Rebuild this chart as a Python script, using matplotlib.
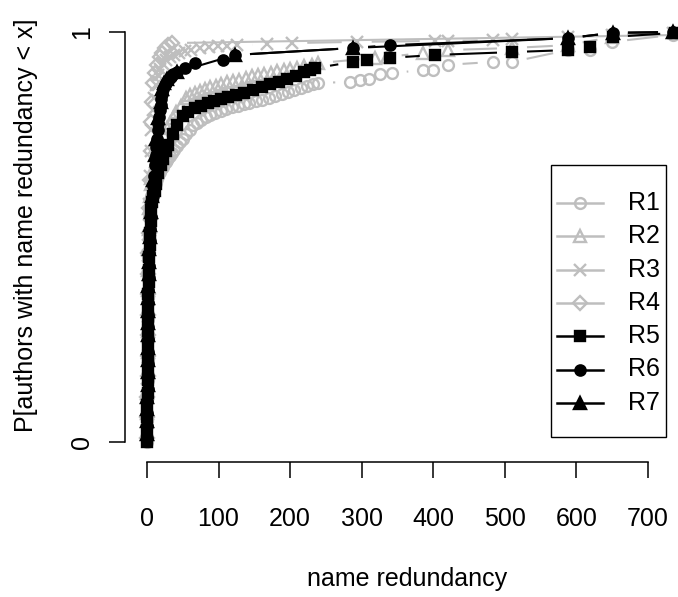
import matplotlib
matplotlib.use('Agg')
import matplotlib.pyplot as plt
from matplotlib.lines import Line2D
from matplotlib.patches import Rectangle
from matplotlib.collections import LineCollection
import numpy as np

plt.rcParams['font.family'] = ['Liberation Sans', 'DejaVu Sans']

W, H = 678, 597
GREY = '#bebebe'
FS = 18

# series (x = name redundancy, y = cumulative share)
names = ['R1', 'R2', 'R3', 'R4', 'R5', 'R6', 'R7']

r1_x = ([0, 0, 0, 1, 1, 1, 1, 2, 2, 2, 3, 3, 4]
        + [6, 8, 10, 12, 14, 16, 18, 20, 22, 24,
           26, 28, 30, 32, 35, 38, 42, 46, 50, 55,
           60, 65, 70, 76, 82, 88, 95, 103, 111, 119,
           127, 135, 143, 152, 161, 170, 179, 188, 197, 206,
           215, 224, 232, 239, 284, 297, 310, 326, 342, 386,
           400, 420, 483, 510, 588, 619, 650, 735])
r1_y = ([0.00, 0.05, 0.10, 0.15, 0.20, 0.25, 0.30, 0.35, 0.40, 0.45, 0.50, 0.55, 0.59]
        + [0.60, 0.612, 0.622, 0.632, 0.641, 0.65, 0.658, 0.665, 0.671, 0.677,
           0.682, 0.687, 0.692, 0.697, 0.704, 0.712, 0.722, 0.731, 0.74, 0.751,
           0.762, 0.772, 0.779, 0.786, 0.792, 0.797, 0.802, 0.807, 0.812, 0.816,
           0.82, 0.824, 0.827, 0.831, 0.834, 0.839, 0.844, 0.849, 0.854, 0.859,
           0.864, 0.869, 0.873, 0.876, 0.878, 0.883, 0.885, 0.898, 0.90, 0.907,
           0.907, 0.92, 0.927, 0.927, 0.956, 0.956, 0.976, 0.993])

r2_x = ([0, 0, 0, 1, 1, 1, 1, 2, 2, 2, 3, 3, 4, 5, 6]
        + [8, 10, 12, 14, 17, 20, 24, 28, 32, 36,
           41, 47, 54, 60, 67, 74, 81, 88, 96, 104,
           112, 120, 129, 138, 147, 155, 164, 173, 182, 191,
           200, 210, 220, 230, 239, 318, 335, 386, 421, 510,
           588, 650, 735])
r2_y = ([0.02, 0.07, 0.12, 0.17, 0.22, 0.27, 0.32, 0.37, 0.42, 0.47, 0.52, 0.57, 0.60, 0.63, 0.645]
        + [0.655, 0.67, 0.685, 0.70, 0.72, 0.735, 0.75, 0.765, 0.778, 0.79,
           0.805, 0.82, 0.838, 0.846, 0.852, 0.857, 0.861, 0.865, 0.869, 0.873,
           0.877, 0.88, 0.884, 0.888, 0.892, 0.895, 0.898, 0.901, 0.904, 0.907,
           0.91, 0.913, 0.917, 0.92, 0.924, 0.937, 0.939, 0.949, 0.956, 0.961,
           0.968, 0.988, 1.0])

r3_x = ([0, 0, 0, 1, 1, 1, 1, 2, 2, 2, 3, 3, 4, 5]
        + [6, 8, 10, 12, 15, 18, 22, 26, 32, 38,
           45, 53, 62, 74, 86, 99, 112, 126, 168, 203,
           293, 402, 420, 483, 510, 588, 650, 735])
r3_y = ([0.03, 0.08, 0.13, 0.18, 0.23, 0.28, 0.33, 0.38, 0.43, 0.48, 0.53, 0.58, 0.65, 0.71]
        + [0.76, 0.81, 0.84, 0.87, 0.895, 0.91, 0.922, 0.932, 0.94, 0.945,
           0.95, 0.954, 0.957, 0.96, 0.963, 0.965, 0.967, 0.968, 0.97, 0.973,
           0.976, 0.978, 0.978, 0.98, 0.983, 0.988, 0.993, 0.998])

r4_x = ([0, 0, 0, 1, 1, 1, 1, 2, 2, 2, 3, 3, 4, 5, 6, 7]
        + [9, 11, 14, 18, 21, 25, 30, 35, 1000])
r4_y = ([0.01, 0.06, 0.11, 0.16, 0.21, 0.26, 0.31, 0.36, 0.41, 0.46, 0.51, 0.57, 0.64, 0.71, 0.78, 0.83]
        + [0.875, 0.90, 0.92, 0.94, 0.95, 0.962, 0.968, 0.973, 1.0])

r5_x = ([0, 0, 0, 0, 1, 1, 1, 1, 1, 2, 2, 2, 2, 3, 3, 3, 4, 4, 5]
        + [6, 7, 9, 11, 13, 16, 19, 22, 26, 30,
           36, 42, 50, 58, 67, 76, 85, 94, 104, 113,
           124, 135, 148, 161, 172, 184, 196, 208, 220, 228,
           235, 288, 307, 340, 402, 510, 588, 619, 651, 738])
r5_y = ([0.00, 0.03, 0.06, 0.09, 0.12, 0.15, 0.18, 0.21, 0.24, 0.27,
         0.30, 0.33, 0.36, 0.39, 0.42, 0.45, 0.48, 0.51, 0.54]
        + [0.565, 0.585, 0.60, 0.612, 0.63, 0.655, 0.675, 0.69, 0.71, 0.725,
           0.752, 0.772, 0.795, 0.806, 0.815, 0.82, 0.826, 0.831, 0.836, 0.841,
           0.846, 0.851, 0.858, 0.866, 0.872, 0.878, 0.885, 0.893, 0.902, 0.907,
           0.912, 0.927, 0.932, 0.937, 0.944, 0.951, 0.956, 0.963, 0.988, 0.998])

r6_x = ([0, 0, 0, 0, 1, 1, 1, 1, 1, 2, 2, 2, 2, 3, 3, 3, 4, 4, 5, 6]
        + [8, 9, 10, 11, 12, 13, 14, 15, 16, 17,
           18, 19, 20, 21, 23, 25, 27, 29, 31, 33,
           35, 37, 42, 53, 67, 106, 123, 288, 340, 588,
           651, 735])
r6_y = ([0.01, 0.04, 0.07, 0.10, 0.13, 0.16, 0.19, 0.22, 0.25, 0.28,
         0.31, 0.34, 0.37, 0.40, 0.43, 0.46, 0.49, 0.52, 0.55, 0.58]
        + [0.60, 0.625, 0.65, 0.675, 0.70, 0.72, 0.74, 0.76, 0.777, 0.793,
           0.81, 0.823, 0.836, 0.85, 0.86, 0.87, 0.876, 0.882, 0.886, 0.89,
           0.894, 0.897, 0.902, 0.912, 0.924, 0.932, 0.944, 0.961, 0.968, 0.985,
           0.998, 1.0])

r7_x = ([0, 0, 0, 0, 1, 1, 1, 1, 1, 2, 2, 2, 2, 3, 3, 3, 4, 4, 5]
        + [7, 9, 11, 13, 16, 19, 21, 24, 28, 42,
           123, 288, 588, 651, 735])
r7_y = ([0.02, 0.05, 0.08, 0.11, 0.14, 0.17, 0.20, 0.23, 0.26, 0.29,
         0.32, 0.35, 0.38, 0.41, 0.44, 0.47, 0.50, 0.53, 0.56]
        + [0.60, 0.64, 0.70, 0.74, 0.79, 0.83, 0.86, 0.875, 0.885, 0.902,
           0.944, 0.961, 0.985, 0.998, 1.0])

xs_all = [r1_x, r2_x, r3_x, r4_x, r5_x, r6_x, r7_x]
ys_all = [r1_y, r2_y, r3_y, r4_y, r5_y, r6_y, r7_y]

colors = [GREY, GREY, GREY, GREY, 'black', 'black', 'black']
markers = ['o', '^', 'x', 'D', 's', 'o', '^']
msizes = [7.8, 8.5, 8, 7.3, 7.4, 7.4, 8.7]
filled = [False, False, False, False, True, True, True]

fig = plt.figure(figsize=(W / 100, H / 100), dpi=100)
ax = fig.add_axes([125 / W, 1 - 462 / H, (689 - 125) / W, (462 - 12) / H])
ax.set_xlim(-30.7, 757.3)
ax.set_ylim(-0.0488, 1.0488)

GAP = 15  # pixels left open round each point, like R's type="b"


def gapped(xs, ys):
    pts = ax.transData.transform(np.column_stack([xs, ys]))
    inv = ax.transData.inverted()
    segs = []
    for p, q in zip(pts[:-1], pts[1:]):
        d = np.hypot(*(q - p))
        if d > 2 * GAP:
            u = (q - p) / d
            segs.append(inv.transform(np.array([p + GAP * u, q - GAP * u])))
    return segs


def mstyle(i):
    c = colors[i]
    kw = dict(marker=markers[i], ms=msizes[i], color=c, mec=c, mew=1.7)
    kw['mfc'] = c if filled[i] else 'none'
    return kw


for i in [0, 1, 2, 3, 6, 5, 4]:
    ax.add_collection(LineCollection(gapped(xs_all[i], ys_all[i]), colors=colors[i], linewidths=1.5))
    ax.plot(xs_all[i], ys_all[i], ls='none', **mstyle(i))

for s in ['top', 'right']:
    ax.spines[s].set_visible(False)
ax.spines['left'].set_bounds(0, 1)
ax.spines['bottom'].set_bounds(0, 700)
for s in ['left', 'bottom']:
    ax.spines[s].set_linewidth(1.1)

ax.set_xticks(range(0, 701, 100))
ax.set_yticks([0, 1])
ax.set_yticklabels(['0', '1'], rotation=90, va='center')
ax.tick_params(axis='both', length=11.5, width=1.1, labelsize=FS)
ax.tick_params(axis='x', pad=21)
ax.tick_params(axis='y', pad=11)
ax.set_xlabel('name redundancy', fontsize=FS, labelpad=26)
ax.set_ylabel('P[authors with name redundancy < x]', fontsize=FS)
ax.yaxis.set_label_coords(-0.154, 0.525)

# legend box drawn in figure pixels
def fpx(x, y):
    return x / W, 1 - y / H

x0, y0 = fpx(551, 165)
x1, y1 = fpx(666, 437)
fig.add_artist(Rectangle((x0, y1), x1 - x0, y0 - y1, transform=fig.transFigure,
                         fill=False, ec='black', lw=1.0))
for i, name in enumerate(names):
    yy = 203 + 33.3 * i
    lx0, ly = fpx(557, yy)
    lx1, _ = fpx(603, yy)
    mx, _ = fpx(580, yy)
    fig.add_artist(Line2D([lx0, lx1], [ly, ly], transform=fig.transFigure,
                          color=colors[i], lw=1.8))
    fig.add_artist(Line2D([mx], [ly], transform=fig.transFigure, ls='none', **mstyle(i)))
    tx, _ = fpx(628, yy)
    fig.text(tx, ly, name, fontsize=FS, va='center', ha='left')

fig.savefig('out.png', dpi=100)
